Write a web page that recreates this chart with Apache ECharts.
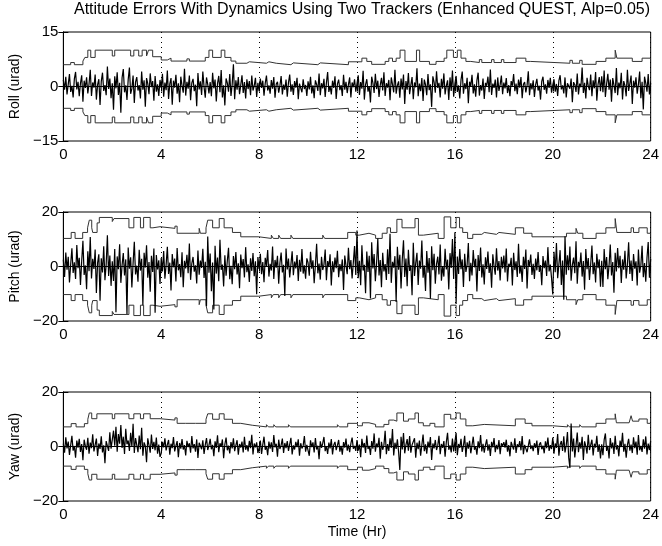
<!DOCTYPE html>
<html>
<head>
<meta charset="utf-8">
<script src="https://cdn.jsdelivr.net/npm/echarts@6.0.0/dist/echarts.min.js"></script>
<style>
	html, body { margin: 0; padding: 0; background: #fff; }
	#chart { width: 662px; height: 546px; }
</style>
</head>
<body>
<div id="chart"></div>
<script>
	// sample spacing of the error traces (hours)
	const timeStep = 0.05

	// roll error, urad (one value every 0.05 hr, 2 hours per row)
	const rollErr = [
		1.8, -0.9, 2.7, -2.2, 0.6, 3.4, -1.5, 0.2, -3.0, 2.1, 4.0, -0.8, 1.3, -2.7, 0.9, 3.1, -4.2, 1.6, -0.4, 2.5, -1.9, 0.7, 4.6, -2.6, 1.1, -0.3, 3.3, -3.6, 0.5, 2.0, -5.1, 1.4, 3.8, -1.2, 0.4, -2.4, 5.5, -0.7, 2.2, -3.2,
		0.9, -6.4, 2.8, -0.5, 3.9, -2.3, 1.0, -7.2, 2.4, 4.8, -1.6, 0.3, -3.7, 1.9, 5.2, -2.0, -0.6, 3.0, -4.5, 1.2, 2.6, -1.1, 0.4, -3.3, 4.1, -0.9, 1.7, -5.6, 2.3, 0.8, -2.1, 3.6, -0.2, 1.5, -3.9, 2.9, -1.4, 0.6, -2.6, 1.8,
		-0.4, 3.5, -2.8, 1.1, -1.0, 4.4, -3.4, 0.7, 2.3, -5.0, 1.6, -0.3, 3.2, -2.0, 0.9, -4.3, 2.7, 0.2, -1.7, 4.9, -2.5, 1.3, -0.6, 3.0, -3.8, 1.0, 2.1, -1.3, 0.5, -5.4, 3.7, -0.8, 1.4, -2.3, 4.1, -0.1, -3.1, 2.5, 0.6, -1.9,
		1.2, -2.7, 3.8, -0.5, 1.9, -4.1, 0.8, 2.9, -1.6, 4.5, -3.0, 0.3, -5.2, 2.2, 1.0, -1.4, 3.4, -2.6, 0.6, 6.1, -3.5, 1.7, -0.9, 2.6, -2.1, 0.4, 3.1, -1.8, 1.2, -3.3, 2.0, -0.7, 1.5, -2.4, 3.0, -1.1, 0.2, 2.4, -2.9, 1.0,
		-1.3, 2.2, -0.4, 1.6, -2.5, 0.9, 3.0, -1.1, 0.3, -2.0, 1.8, -0.6, 2.6, -3.1, 0.7, 1.3, -1.7, 0.2, 2.9, -2.2, 0.5, -0.9, 1.9, -2.8, 1.1, 3.3, -1.4, 0.6, -2.3, 1.5, -0.3, 2.4, -3.5, 0.8, 1.2, -1.6, 2.0, -0.7, 0.4, -2.6,
		1.4, -0.8, 2.7, -1.9, 0.3, -3.2, 1.7, 0.6, -1.2, 3.6, -2.4, 0.9, -0.5, 2.1, -2.9, 1.0, 4.0, -1.5, 0.2, -2.2, 1.6, -0.4, 2.8, -3.4, 0.7, 1.9, -1.0, 0.4, -2.6, 3.2, -0.9, 1.3, -1.8, 0.5, 2.5, -3.0, 1.1, -0.2, 2.0, -1.4,
		0.8, 3.1, -2.3, 1.2, -0.6, 4.3, -3.6, 0.5, 2.0, -1.4, 0.1, -4.4, 2.7, 1.0, -1.8, 3.5, -0.7, 1.6, -2.9, 0.4, 2.4, -1.1, 3.9, -2.6, 0.9, -0.3, 1.8, -3.8, 2.5, 0.6, -1.6, 4.6, -2.0, 0.3, 1.4, -3.1, 2.2, -0.8, 3.3, -4.8,
		1.5, -0.9, 3.7, -2.1, 0.4, 2.6, -3.5, 1.1, -0.2, 5.0, -2.7, 0.8, -1.3, 2.3, -4.0, 1.9, 0.5, -2.4, 3.4, -1.0, 0.6, -5.6, 2.8, 1.2, -1.7, 4.2, -0.4, 1.0, -3.0, 2.1, -0.6, 3.6, -2.2, 0.2, 1.7, -3.7, 2.5, -1.2, 4.4, -2.8,
		0.7, 2.9, -1.5, 0.3, -3.3, 1.8, 4.1, -2.0, 0.9, -0.7, 2.4, -4.6, 1.3, 0.1, 3.2, -1.9, 0.6, -2.8, 1.7, 3.8, -2.5, 0.4, -1.1, 2.2, -3.4, 1.0, 0.2, 2.7, -1.6, 4.7, -2.3, 0.8, -0.4, 1.9, -3.0, 2.5, -1.2, 0.5, 3.0, -2.1,
		1.1, -0.5, 2.3, -1.8, 0.4, -2.7, 1.5, 0.2, 3.4, -1.3, 0.8, -2.1, 1.9, -0.3, 2.6, -3.2, 0.6, 1.2, -1.6, 0.3, 4.2, -2.4, 0.9, -0.8, 1.7, -2.9, 0.5, 2.1, -1.1, 0.2, -3.6, 1.4, 2.7, -0.9, 0.6, -2.0, 1.8, -0.4, 2.4, -1.7,
		0.4, 2.0, -1.4, 0.7, -2.6, 1.6, 3.1, -0.8, 0.3, -1.9, 2.5, -3.0, 0.9, 1.4, -0.6, 2.2, -4.3, 1.2, 0.5, -1.5, 3.6, -2.2, 0.8, -0.2, 5.2, -1.8, 1.0, -3.3, 2.4, 0.1, -1.0, 3.3, -2.7, 1.7, -0.5, 4.0, -3.9, 0.6, 2.6, -1.3,
		2.8, -1.6, 4.4, -2.9, 0.7, 3.5, -0.9, 1.9, -4.2, 2.3, 0.4, -1.8, 5.1, -2.4, 1.1, -0.5, 3.8, -3.6, 1.5, 0.2, -2.7, 4.6, -1.2, 0.8, 3.0, -4.8, 1.6, -0.3, 2.5, -2.0, 0.6, 4.1, -3.2, 1.3, -6.3, 2.7, 0.9, -1.4, 3.4, -2.2, 1.0
	]
	// pitch error, urad
	const pitchErr = [
		2.5, -3.8, 5.1, -1.2, 3.6, -5.9, 0.8, 6.7, -2.4, 1.5, -4.6, 7.9, -0.6, 3.2, -6.8, 2.0, 9.4, -3.1, 0.4, -8.3, 5.6, -1.7, 10.8, -4.4, 2.8, -0.9, 6.2, -9.7, 1.3, 4.5, -12.6, 3.0, -2.2, 7.4, -5.0, 0.7, 11.5, -3.5, 4.0, -7.1,
		1.9, -5.3, 6.4, -16.8, 3.7, -1.0, 8.2, -6.0, 0.5, 4.9, -3.3, 2.6, -17.4, 7.0, -0.8, 3.4, -7.7, 1.2, 9.1, -2.9, 0.3, -5.6, 6.1, -1.5, 2.8, -14.2, 5.0, -0.4, 7.8, -4.1, 1.6, -9.3, 3.9, -2.0, 6.6, -17.0, 4.2, -1.1, 2.3, -6.4,
		3.1, -1.8, 5.7, -4.5, 0.6, 7.2, -2.7, 1.4, -8.8, 4.6, -0.3, 2.9, -5.5, 6.8, -1.4, 0.9, -3.9, 5.2, -7.6, 2.1, -0.7, 4.3, -2.5, 8.4, -4.9, 1.1, 3.5, -1.9, 0.4, -6.2, 5.9, -3.0, 2.2, -0.5, 6.5, -4.2, 1.7, -14.6, 11.0, -2.3,
		4.8, -9.1, 1.5, -15.8, 7.6, -2.6, 3.3, -5.4, 9.8, -1.2, 0.7, -7.3, 4.1, -3.4, 2.0, 6.9, -4.7, 0.3, -6.5, 3.8, -1.0, 5.3, -2.9, 1.2, -8.0, 4.4, -0.6, 2.7, -4.0, 7.1, -2.1, 0.8, -5.7, 3.0, -1.6, 4.9, -3.6, 1.9, -10.2, 3.5,
		-0.9, 4.7, -2.8, 1.6, -5.8, 3.2, 0.2, 6.0, -3.7, 1.0, -1.5, 7.3, -4.6, 2.4, -0.4, 3.9, -6.3, 1.3, 5.1, -2.2, 0.6, -10.8, 6.6, -1.1, 2.9, -4.0, 0.8, 5.6, -3.2, 1.8, -0.7, 4.2, -5.3, 2.5, -1.9, 6.4, -2.6, 0.4, -4.5, 3.0,
		1.4, -3.4, 5.4, -0.8, 2.3, -6.1, 0.5, 8.3, -2.5, 1.1, -4.8, 3.6, -1.3, 0.7, 6.2, -5.0, 2.0, -0.2, 4.5, -7.0, 1.9, -2.1, 3.3, -0.6, 5.8, -3.9, 0.9, -1.7, 2.6, -8.6, 4.0, 0.3, -2.8, 6.9, -1.0, 2.4, -4.4, 1.5, 7.5, -3.1,
		13.2, -4.3, 2.1, -6.9, 7.8, -1.5, 0.6, -9.8, 5.5, -2.0, 3.9, -11.7, 8.9, -0.7, 4.6, -5.4, 1.2, 10.3, -3.3, 2.4, -7.6, 5.0, -1.8, 0.9, -4.9, 6.3, -2.7, 12.0, -6.0, 1.7, -0.4, 3.8, -13.0, 7.2, -1.2, 4.3, -8.1, 2.6, 9.6, -3.8,
		2.9, -7.2, 6.1, -1.6, 0.5, -10.5, 8.7, -3.5, 1.3, 5.0, -6.8, 2.2, -0.8, 9.5, -4.1, 0.4, -9.0, 5.7, -2.3, 3.1, -11.8, 7.4, -1.4, 4.7, -6.3, 1.0, 3.6, -2.9, 8.1, -5.2, 0.2, -3.7, 6.5, -1.1, 2.5, -8.4, 4.9, -0.5, 10.1, -4.6,
		12.6, -13.8, 3.7, -2.7, 6.4, -1.0, 2.6, -7.5, 4.7, -2.0, 0.6, 8.6, -5.4, 1.4, -3.3, 6.0, -0.3, 2.8, -9.2, 4.2, -1.6, 7.0, -4.0, 0.8, -6.6, 3.4, -0.9, 5.5, -2.4, 1.2, -7.8, 4.5, 0.1, -3.0, 6.7, -1.5, 2.0, -5.1, 3.6, -0.7,
		4.0, -2.2, 6.6, -5.5, 1.0, -0.2, 3.2, -7.0, 5.0, -1.3, 1.9, -3.8, 8.3, -2.6, 0.4, -5.7, 3.6, -0.9, 6.2, -8.1, 2.4, 0.1, 4.4, -3.1, 1.0, -4.6, 2.9, -1.4, 5.3, -2.0, 0.5, -6.9, 3.8, -0.6, 2.2, -3.5, 7.1, -1.8, 0.7, -4.3,
		-10.3, 5.4, -2.1, 8.6, -4.3, 0.8, 6.0, -6.8, 2.2, -12.2, 11.1, -3.0, 4.1, -1.4, 7.3, -5.2, 0.5, 3.3, -2.5, 9.3, -6.3, 1.7, -0.3, 5.1, -3.7, 2.0, -8.5, 6.4, -1.0, 3.1, -4.9, 0.9, 7.7, -2.8, 1.5, -5.9, 4.7, -0.6, 2.6, -7.4,
		2.1, -7.5, 6.4, -1.0, 3.5, -4.7, 0.4, 8.1, -3.3, 1.6, -9.6, 5.0, -1.8, 6.8, -0.6, 3.9, -6.0, 2.6, -1.2, 5.8, -4.4, 0.7, 8.9, -2.7, 2.2, -5.3, 4.6, -0.8, 1.9, -7.0, 6.2, -2.3, 0.5, 7.6, -3.9, 1.3, -5.6, 3.2, 9.0, -4.1, 2.8
	]
	// yaw error, urad
	const yawErr = [
		1.0, -2.3, 3.4, -0.7, 1.8, -3.1, 0.5, 3.9, -1.5, 0.2, -4.1, 2.2, -0.4, 2.8, -2.0, 0.9, -5.0, 2.5, 0.1, -1.2, 3.2, -2.6, 1.4, -0.6, 4.5, -1.8, 0.6, 2.9, -3.5, 1.1, -0.9, 3.7, -2.2, 0.4, -6.1, 2.0, 1.3, -1.6, 5.2, -0.8,
		-1.2, 5.8, 0.3, 7.2, -1.9, 4.6, 1.0, 7.9, -0.5, 3.6, -2.7, 6.5, 0.8, 2.2, -1.6, 5.0, -0.1, 8.3, -2.4, 3.1, 0.6, -2.1, 4.0, -1.0, 6.9, -3.4, 1.5, 0.2, -5.8, 3.0, 0.5, -2.3, 4.4, -0.9, 1.7, -1.4, 3.3, -2.6, 0.7, -3.8,
		-2.5, 1.7, -0.3, 3.0, -1.4, 0.7, 2.4, -3.0, 1.0, -0.6, 3.5, -1.8, 0.2, 2.0, -3.9, 1.3, -0.8, 2.7, -1.1, 0.5, -3.3, 2.1, -0.2, 1.2, -2.3, 3.8, -0.7, 0.9, -1.9, 2.6, -4.2, 1.4, 0.3, -1.0, 2.3, -2.7, 0.6, 3.1, -1.3, 0.4,
		2.8, -1.0, 0.6, -3.6, 1.9, -0.5, 4.1, -2.1, 1.2, -0.1, 2.6, -4.3, 0.8, 3.3, -1.4, 0.3, -2.5, 1.6, -0.7, 3.0, -1.7, 0.4, 2.3, -3.0, 0.9, -0.4, 1.8, -2.2, 3.6, -1.2, 0.5, -1.8, 2.1, -0.6, 4.3, -2.9, 1.1, -0.3, 1.5, -2.4,
		-0.4, 2.2, -2.7, 0.7, 3.6, -1.2, 0.2, -3.2, 1.8, -0.8, 1.5, -2.0, 4.2, -0.3, 1.0, -3.7, 2.5, -0.9, 0.5, 2.9, -2.4, 1.3, -0.6, 2.0, -1.6, 0.8, 3.2, -2.9, 0.4, -1.1, 1.7, -0.2, 2.6, -3.4, 1.2, -0.7, 0.3, 3.8, -1.9, 0.6,
		0.8, -3.4, 2.3, -0.2, 1.5, -2.2, 3.1, -1.1, 0.3, -4.7, 1.9, -0.5, 1.2, 3.5, -1.7, 0.1, -2.7, 1.4, -0.7, 2.7, -2.9, 0.6, 1.7, -1.3, 0.4, 2.4, -1.9, 0.2, -3.0, 1.6, -0.4, 2.9, -1.5, 0.7, -2.1, 1.1, 3.3, -0.8, 0.2, -1.6,
		2.4, -1.5, 0.7, -3.9, 2.8, -0.4, 1.3, -2.4, 4.0, -0.9, 0.2, -3.1, 2.0, -0.8, 4.8, -1.9, 1.1, -0.3, 3.2, -4.5, 1.7, -1.2, 0.5, 5.8, -2.8, 0.9, -1.6, 3.0, -0.5, 6.4, -3.3, 1.4, -0.9, 2.6, -2.0, -8.6, 3.6, -1.1, 4.9, -2.5,
		0.6, 2.7, -1.5, 3.8, -2.3, 0.6, -0.1, 3.0, -4.1, 1.4, -1.0, 2.2, -3.4, 0.5, 4.4, -1.7, 0.8, -2.6, 1.8, -0.4, 3.5, -4.9, 1.1, -0.7, 2.4, -1.3, 0.3, 3.9, -2.8, 0.9, -0.5, 2.0, -3.7, 1.6, 5.0, -1.2, 0.4, -2.2, 2.9, -1.8,
		-1.4, 5.0, -3.2, 0.9, -0.5, 2.8, -2.0, 0.3, 3.9, -3.8, 1.5, -0.8, 2.1, -2.5, 0.4, 3.6, -1.2, 0.1, -3.0, 1.9, -0.6, 4.2, -1.8, 1.0, -2.3, 0.5, 2.6, -1.5, 0.8, -3.5, 1.7, -0.3, 3.1, -2.1, 0.6, -1.0, 2.4, -2.8, 1.2, 0.2,
		1.6, -0.4, 2.5, -1.9, 0.5, -3.6, 1.7, 0.2, -1.1, 3.0, -2.4, 0.8, -0.2, 2.0, -1.4, 3.8, -2.8, 0.6, 1.3, -2.1, 0.2, 2.6, -0.9, 0.4, -1.7, 1.2, -0.5, 2.2, -3.1, 0.7, 1.5, -1.0, 0.3, -2.5, 1.9, -0.6, 3.3, -1.6, 0.5, -0.9,
		3.3, -2.6, 1.1, -0.5, 4.6, -3.4, 0.7, 2.0, -1.6, 3.7, -2.2, 0.4, 5.3, -4.0, -7.9, 8.4, -1.8, 2.9, -4.0, 0.4, 5.1, -2.1, 1.5, -0.8, 3.6, -4.9, 1.9, 0.1, -2.6, 4.3, -1.3, 0.6, 2.5, -3.3, 1.0, -0.4, 3.9, -2.0, 0.8, -4.4,
		0.8, -3.2, 2.4, 4.8, -1.6, 0.3, -4.4, 3.1, -0.7, 1.4, -2.7, 3.9, -1.1, 0.5, -3.6, 2.2, -0.2, 5.0, -1.9, 1.0, -4.1, 0.6, 2.8, -1.5, 0.7, -2.4, 3.4, -0.6, 1.8, -3.0, 4.2, -1.4, 0.2, -2.0, 2.6, -0.8, 3.7, -2.9, 1.1, -1.3, 2.0
	]

	// 3-sigma bounds: [hour, value] where the level changes (lower bound is the mirror)
	const rollBound = [
		[0,6.0],[0.3,6.6],[0.45,6.0],[0.8,7.0],[0.88,8.0],[1.0,10.0],[1.12,8.0],[1.3,10.0],[2.0,8.4],[2.1,10.0],
		[2.75,8.4],[2.88,10.0],[3.08,8.4],[3.22,10.0],[3.4,8.4],[3.48,10.0],[3.65,8.2],[4.0,7.3],[4.25,7.8],[4.4,7.0],
		[5.05,7.6],[5.15,7.0],[5.8,8.0],[5.95,10.0],[6.1,8.0],[6.45,10.0],[6.6,8.0],[6.85,7.0],[7.05,6.4],[7.5,6.8],
		[7.6,6.4],[8.3,6.8],[8.4,6.4],[8.7,6.0],[9.3,6.5],[9.4,6.0],[10.4,6.5],[10.5,6.0],[11.65,6.8],[12.2,7.8],
		[12.4,6.9],[12.6,6.1],[13.15,6.9],[13.3,7.8],[13.45,6.9],[13.6,7.8],[13.76,10.0],[13.96,6.9],[14.43,10.0],[14.56,6.9],
		[14.96,6.1],[15.23,6.9],[15.56,7.8],[15.67,10.0],[15.94,8.0],[16.1,10.0],[16.25,7.8],[16.45,6.9],[16.65,6.6],[17.0,7.4],
		[17.1,6.6],[17.5,7.4],[17.6,6.6],[17.9,7.4],[18.0,6.6],[18.5,7.8],[18.9,6.9],[19.1,6.4],[20.7,7.2],[20.8,6.4],
		[21.1,7.2],[21.2,6.1],[21.77,6.9],[22.17,7.8],[22.55,10.0],[22.62,7.8],[23.25,6.9],[23.65,7.8],[24,7.8]
	]
	const pitchBound = [
		[0,10.3],[0.32,12.5],[0.48,10.3],[0.79,12.5],[0.99,14.2],[1.06,17.0],[1.16,14.2],[1.2,12.5],[1.38,16.0],[1.47,18.0],
		[2.0,16.5],[2.07,17.6],[2.68,14.2],[2.88,18.0],[3.15,14.2],[3.28,18.0],[3.55,14.2],[3.66,14.6],[3.95,14.0],[4.56,14.8],
		[4.65,12.2],[5.55,14.0],[5.6,12.2],[5.83,14.2],[5.9,17.0],[6.1,14.2],[6.37,17.6],[6.57,14.2],[6.91,12.5],[7.25,10.9],
		[7.99,10.3],[8.5,11.5],[8.58,10.3],[8.8,11.5],[8.88,10.3],[9.3,11.5],[9.38,10.3],[10.6,11.5],[10.68,10.3],[11.62,12.5],
		[11.95,11.5],[12.09,12.2],[12.49,11.5],[12.76,10.3],[13.03,12.2],[13.23,14.2],[13.37,12.5],[13.63,17.3],[13.84,14.2],[14.37,17.6],
		[14.51,11.5],[14.71,12.2],[15.32,10.3],[15.56,18.2],[15.83,14.2],[16.05,18.0],[16.19,14.2],[16.32,12.5],[16.52,10.3],[16.73,11.8],
		[17.1,12.5],[17.2,11.8],[17.7,12.5],[17.8,11.8],[18.47,14.2],[18.81,12.2],[19.15,10.9],[20.56,12.2],[20.95,14.0],[21.02,12.2],
		[21.23,10.3],[21.77,12.2],[22.17,14.2],[22.55,17.6],[22.62,12.5],[23.2,14.2],[23.3,12.5],[23.52,14.2],[23.86,12.2],[24,12.2]
	]
	const yawBound = [
		[0,7.2],[0.32,8.4],[0.52,7.2],[0.86,8.4],[1.0,10.0],[1.06,12.3],[1.16,10.2],[1.37,12.0],[2.0,10.2],[2.1,12.0],
		[2.68,10.2],[2.88,12.0],[3.15,10.2],[3.28,12.0],[3.55,10.2],[3.95,9.7],[4.56,10.5],[4.65,8.5],[5.0,9.2],[5.08,8.5],
		[5.4,9.2],[5.48,8.5],[5.83,10.0],[5.9,12.0],[6.1,10.0],[6.37,12.0],[6.57,10.0],[6.91,8.5],[7.25,7.8],[7.72,7.2],
		[8.3,8.0],[8.38,7.2],[8.6,8.0],[8.68,7.2],[9.2,8.0],[9.28,7.2],[11.2,8.0],[11.28,7.2],[11.62,8.5],[12.02,7.6],
		[12.22,8.7],[12.49,8.1],[12.76,7.2],[13.1,8.1],[13.3,9.7],[13.5,9.3],[13.63,12.3],[13.9,9.3],[14.1,10.1],[14.37,12.3],
		[14.51,8.7],[14.71,7.6],[14.98,8.5],[15.18,7.2],[15.56,11.8],[15.83,10.1],[16.05,12.3],[16.22,10.1],[16.45,7.6],[16.73,8.1],
		[17.2,7.6],[18.47,10.1],[18.87,8.5],[19.15,7.6],[20.0,7.2],[20.6,8.0],[20.68,7.2],[21.1,8.0],[21.18,7.2],[21.77,8.5],
		[22.17,10.1],[22.55,12.0],[22.6,8.7],[23.12,9.3],[23.2,11.3],[23.26,9.3],[23.52,10.1],[23.86,8.5],[24,8.5]
	]

	const panels = [
		{ name: 'Roll (urad)', err: rollErr, bound: rollBound, lim: 15, top: 32 },
		{ name: 'Pitch (urad)', err: pitchErr, bound: pitchBound, lim: 20, top: 212 },
		{ name: 'Yaw (urad)', err: yawErr, bound: yawBound, lim: 20, top: 392 }
	]

	const font = "'Liberation Sans', Arial, Helvetica, sans-serif"
	const minus = v => String(v).replace('-', '\u2212')

	const grids = [], xAxes = [], yAxes = [], series = []
	panels.forEach((p, k) => {
		grids.push({ left: 57, right: 10, top: p.top, height: 109, show: true, borderColor: '#000', borderWidth: 1 })
		xAxes.push({
			gridIndex: k, type: 'value', min: 0, max: 24, interval: 4,
			axisLine: { lineStyle: { color: '#000' } },
			axisTick: { inside: true, length: 5, lineStyle: { color: '#000' } },
			axisLabel: { color: '#000', fontSize: 15, fontFamily: font, margin: 6 },
			splitLine: { show: true, lineStyle: { color: '#000', type: [1, 4], width: 1 } },
			name: k === 2 ? 'Time (Hr)' : '', nameLocation: 'middle', nameGap: 24,
			nameTextStyle: { color: '#000', fontSize: 14, fontFamily: font }
		})
		xAxes.push({
			gridIndex: k, type: 'value', min: 0, max: 24, interval: 4, position: 'top',
			axisLine: { lineStyle: { color: '#000' } },
			axisTick: { inside: true, length: 5, lineStyle: { color: '#000' } },
			axisLabel: { show: false }, splitLine: { show: false }
		})
		yAxes.push({
			gridIndex: k, type: 'value', min: -p.lim, max: p.lim, interval: p.lim,
			axisLine: { show: true, lineStyle: { color: '#000' } },
			axisTick: { show: true, inside: true, length: 5, lineStyle: { color: '#000' } },
			axisLabel: { color: '#000', fontSize: 15, fontFamily: font, margin: 5, formatter: minus },
			splitLine: { show: false },
			name: p.name, nameLocation: 'middle', nameGap: 34,
			nameTextStyle: { color: '#000', fontSize: 14, fontFamily: font }
		})
		yAxes.push({
			gridIndex: k, type: 'value', min: -p.lim, max: p.lim, interval: p.lim, position: 'right',
			axisLine: { show: true, lineStyle: { color: '#000' } },
			axisTick: { show: true, inside: true, length: 5, lineStyle: { color: '#000' } },
			axisLabel: { show: false }, splitLine: { show: false }
		})
		// error trace
		series.push({
			type: 'line', xAxisIndex: 2 * k, yAxisIndex: 2 * k, showSymbol: false, sampling: 'none',
			data: p.err.map((v, i) => [i * timeStep, v]), lineStyle: { color: '#000', width: 1.2 }, z: 3
		})
		// upper / lower bounds
		series.push({
			type: 'line', xAxisIndex: 2 * k, yAxisIndex: 2 * k, showSymbol: false, step: 'end',
			data: p.bound, lineStyle: { color: '#333', width: 1 }, z: 2
		})
		series.push({
			type: 'line', xAxisIndex: 2 * k, yAxisIndex: 2 * k, showSymbol: false, step: 'end',
			data: p.bound.map(b => [b[0], -b[1]]), lineStyle: { color: '#333', width: 1 }, z: 2
		})
	})

	const chart = echarts.init(document.getElementById('chart'))
	chart.setOption({
		backgroundColor: '#fff',
		animation: false,
		graphic: [{
			type: 'text', x: 362, y: 10,
			style: {
				text: 'Attitude Errors With Dynamics Using Two Trackers (Enhanced QUEST, Alp=0.05)',
				fill: '#000', fontSize: 16, fontFamily: font, align: 'center', verticalAlign: 'middle'
			}
		}],
		grid: grids,
		xAxis: xAxes,
		yAxis: yAxes,
		series: series
	})
</script>
</body>
</html>
